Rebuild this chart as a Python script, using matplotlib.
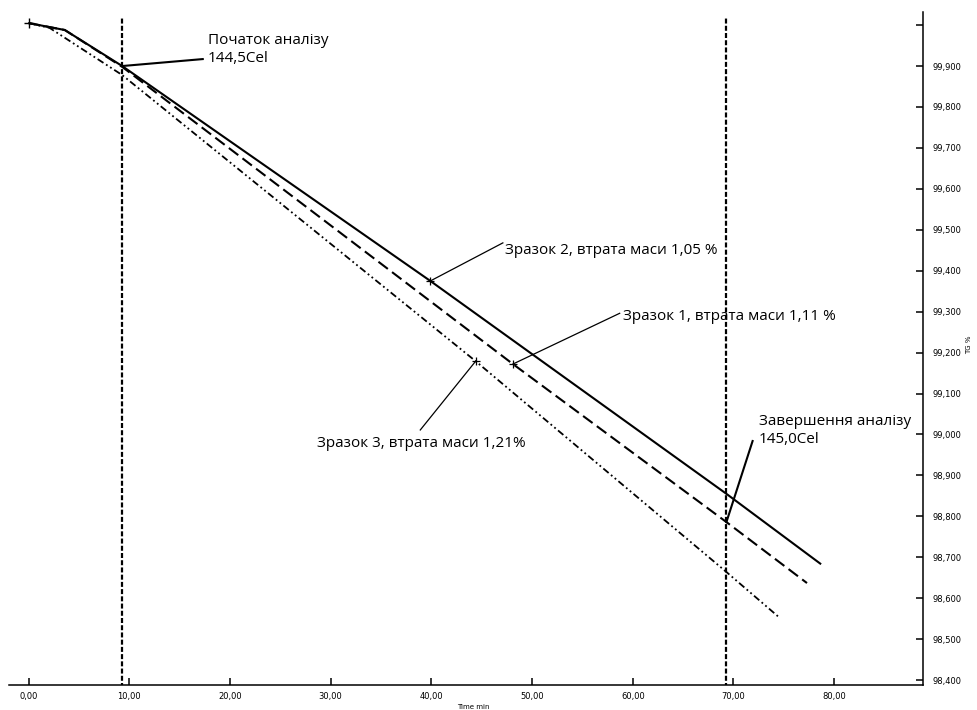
import matplotlib
matplotlib.use('Agg')
import matplotlib.pyplot as plt

plt.rcParams['lines.scale_dashes'] = False

# Зразок 2 (суцільна лінія)
t2 = [0.0, 3.6, 9.3, 39.9, 69.3, 78.7]
tg2 = [100.005, 99.988, 99.900, 99.375, 98.855, 98.683]
# Зразок 1 (штрихова лінія)
t1 = [0.0, 3.6, 9.3, 48.1, 69.3, 77.3]
tg1 = [100.005, 99.988, 99.898, 99.172, 98.786, 98.637]
# Зразок 3 (штрих-пунктир)
t3 = [0.0, 2.1, 9.3, 44.4, 69.3, 74.5]
tg3 = [100.005, 99.993, 99.878, 99.179, 98.664, 98.554]

t_start = 9.3
t_end = 69.3

xticks = [0, 10, 20, 30, 40, 50, 60, 70, 80]
xlabels = ["0,00", "10,00", "20,00", "30,00", "40,00", "50,00", "60,00", "70,00", "80,00"]
yticks = [98.4, 98.5, 98.6, 98.7, 98.8, 98.9, 99.0, 99.1, 99.2, 99.3, 99.4, 99.5, 99.6, 99.7, 99.8, 99.9, 100.0]
ylabels = ["98,400", "98,500", "98,600", "98,700", "98,800", "98,900", "99,000", "99,100",
           "99,200", "99,300", "99,400", "99,500", "99,600", "99,700", "99,800", "99,900", ""]

fig = plt.figure(figsize=(9.78, 7.10), dpi=100)
ax = fig.add_axes([9/978, 1 - 685/710, 914/978, 673/710])

ax.plot(t2, tg2, color='black', lw=1.5, solid_capstyle='butt')
ax.plot(t1, tg1, color='black', lw=1.5, linestyle=(0, (8.5, 3.8)))
ax.plot(t3, tg3, color='black', lw=1.3, linestyle=(0, (5, 2.2, 1.3, 2.2, 1.3, 2.2)))

# вертикальні лінії початку і завершення аналізу
for tv in [t_start, t_end]:
    ax.vlines(tv, 98.38, 100.017, color='black', lw=1.6, linestyles=[(0, (3.6, 1.6))])

# маркери
ax.plot([t2[0]], [tg2[0]], marker='+', color='black', ms=7, mew=1.0)
ax.plot([t2[3]], [tg2[3]], marker='+', color='black', ms=6, mew=0.9)
ax.plot([t1[3]], [tg1[3]], marker='+', color='black', ms=6, mew=0.9)
ax.plot([t3[3]], [tg3[3]], marker='+', color='black', ms=6, mew=0.9)

fnt = dict(family=['Open Sans', 'DejaVu Sans'], size=11, color='black')

# Початок аналізу
ax.plot([t_start, 17.3], [99.900, 99.917], color='black', lw=1.5)
ax.text(17.8, 99.940, "Початок аналізу\n144,5Cel", ha='left', va='center', linespacing=1.25, **fnt)

# Зразок 2
ax.plot([t2[3], 47.1], [tg2[3], 99.468], color='black', lw=0.9)
ax.text(47.3, 99.450, "Зразок 2, втрата маси 1,05 %", ha='left', va='center', **fnt)

# Зразок 1
ax.plot([t1[3], 58.7], [tg1[3], 99.296], color='black', lw=0.9)
ax.text(59.0, 99.287, "Зразок 1, втрата маси 1,11 %", ha='left', va='center', **fnt)

# Зразок 3
ax.plot([t3[3], 38.9], [tg3[3], 99.011], color='black', lw=0.9)
ax.text(28.6, 98.979, "Зразок 3, втрата маси 1,21%", ha='left', va='center', **fnt)

# Завершення аналізу
ax.plot([t_end, 71.9], [tg1[4], 98.984], color='black', lw=1.5)
ax.text(72.5, 99.009, "Завершення аналізу\n145,0Cel", ha='left', va='center', linespacing=1.25, **fnt)

ax.set_xlim(-1.94, 88.82)
ax.set_ylim(98.388, 100.032)

ax.spines['left'].set_visible(False)
ax.spines['top'].set_visible(False)
ax.spines['bottom'].set_linewidth(1.1)
ax.spines['right'].set_linewidth(1.1)

ax.set_xticks(xticks)
ax.set_xticklabels(xlabels, fontsize=6, family='DejaVu Sans')
ax.yaxis.tick_right()
ax.set_yticks(yticks)
ax.set_yticklabels(ylabels, fontsize=6, family='DejaVu Sans')
ax.tick_params(axis='x', direction='in', length=5, width=1.1, pad=5)
ax.tick_params(axis='y', direction='in', length=5, width=1.1, pad=7)

ax.set_xlabel("Time min", fontsize=5)
ax.xaxis.set_label_coords(0.508, -0.0327)
ax.xaxis.label.set_va('center')
ax.yaxis.set_label_position('right')
ax.set_ylabel("TG %", fontsize=5, rotation=90)
ax.yaxis.set_label_coords(1.05, 0.505)
ax.yaxis.label.set_va('center')

fig.savefig('out.png', dpi=100)
